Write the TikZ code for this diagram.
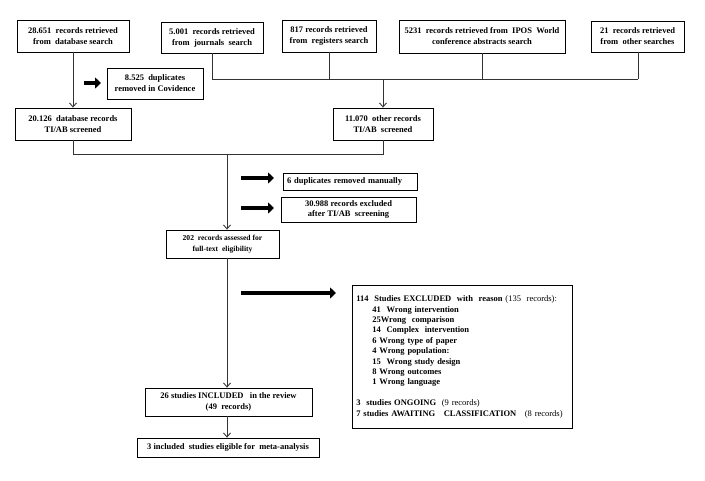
\documentclass[tikz,border=0pt]{standalone}
\usepackage{fontspec}
\setmainfont{Liberation Serif}
\usetikzlibrary{arrows.meta}
\tikzset{
  box/.style={draw=black, line width=0.8pt, align=center, inner sep=1pt,
    font=\fontsize{8.5}{11}\selectfont\bfseries},
  conn/.style={draw=black!80, line width=0.9pt},
  arr/.style={conn, -{Straight Barb[length=4pt,width=7pt]}},
  thick arrow/.style={draw=black, line width=3.6pt, -{Triangle[length=6pt,width=11pt]}}
}
\begin{document}
\begin{tikzpicture}[x=1pt,y=-1pt]
\useasboundingbox (0,0) rectangle (705,480);
% top row
\node[box, minimum width=112pt, minimum height=32pt] (db) at (73,36) {28.651 \ records retrieved\\from \ database search};
\node[box, minimum width=102pt, minimum height=31pt] (jour) at (212,37.5) {5.001 \ records retrieved\\from \ journals \ search};
\node[box, minimum width=94pt, minimum height=32pt] (reg) at (329,36) {817 records retrieved\\from \ registers search};
\node[box, minimum width=166pt, minimum height=33pt] (ipos) at (482,36.5) {5231 \ records retrieved from \ IPOS \ World\\conference abstracts search};
\node[box, minimum width=93pt, minimum height=31pt] (other) at (637.5,36.5) {21 \ records retrieved\\from \ other searches};
% duplicates
\node[box, minimum width=96pt, minimum height=31pt] (dup) at (155,83.5) {8.525 \ duplicates\\removed in Covidence};
% screened
\node[box, minimum width=116pt, minimum height=32pt] (db2) at (73,124) {20.126 \ database records\\TI/AB screened};
\node[box, minimum width=100pt, minimum height=32pt] (oth2) at (383,124) {11.070 \ other records\\TI/AB \ screened};
% removed / excluded
\node[box, minimum width=134pt, minimum height=17pt, align=left, text width=126pt] (man) at (350,181.5) {6 duplicates removed manually};
\node[box, minimum width=135pt, minimum height=25pt, font=\fontsize{8.5}{10}\selectfont\bfseries] (excl) at (348.5,209.5) {30.988 records excluded\\after TI/AB \ screening};
% full text
\node[box, minimum width=113pt, minimum height=28pt, font=\fontsize{7.6}{11}\selectfont\bfseries] (ft) at (222.5,244) {202 \ records assessed for\\full-text \ eligibility};
% big exclusion box
\node[box, anchor=north west, align=left, text width=212pt, minimum height=143pt, inner sep=4pt, font=\fontsize{8.5}{10.4}\selectfont\bfseries] (big) at (352,285) {114 \ Studies EXCLUDED \ with \ reason \textmd{(135 \ records):}\\
\hspace*{16pt}41 \ Wrong intervention\\
\hspace*{16pt}25Wrong \ comparison\\
\hspace*{16pt}14 \ Complex \ intervention\\
\hspace*{16pt}6 Wrong type of paper\\
\hspace*{16pt}4 Wrong population:\\
\hspace*{16pt}15 \ Wrong study design\\
\hspace*{16pt}8 Wrong outcomes\\
\hspace*{16pt}1 Wrong language\\[10.4pt]
3 \ studies ONGOING \ \textmd{(9 records)}\\
7 studies AWAITING \ \ CLASSIFICATION \ \ \textmd{(8 records)}};
% included
\node[box, minimum width=167pt, minimum height=28pt] (inc) at (228.5,402) {26 studies INCLUDED \ \ in the review\\(49 \ records)};
\node[box, minimum width=182pt, minimum height=19pt] (meta) at (228,447.5) {3 included \ studies eligible for \ meta-analysis};
% helper coordinates
\coordinate (j1) at (212,79);
\coordinate (j2) at (638,79);
\coordinate (jm) at (383,79);
\coordinate (k1) at (73,154);
\coordinate (k2) at (383,154);
\coordinate (km) at (227,154);
% connectors
\draw[arr] (db.south) -- (db2.north);
\draw[conn] (jour.south) -- (j1);
\draw[conn] (reg.south) -- (reg.south |- j1);
\draw[conn] (ipos.south) -- (ipos.south |- j1);
\draw[conn] (other.south -| j2) -- (j2);
\draw[conn] (j1) -- (j2);
\draw[arr] (jm) -- (oth2.north);
\draw[conn] (db2.south) -- (k1) -- (k2) -- (oth2.south);
\draw[arr] (km) -- (km |- ft.north);
\draw[arr] (km |- ft.south) -- (km |- inc.north);
\draw[arr] (km |- inc.south) -- (km |- meta.north);
% thick arrows
\coordinate (a1s) at (84,83); \coordinate (a1e) at (101,83);
\coordinate (a2s) at (241,178); \coordinate (a2e) at (274,178);
\coordinate (a3s) at (241,208); \coordinate (a3e) at (274,208);
\coordinate (a4s) at (241,293); \coordinate (a4e) at (336,293);
\draw[thick arrow] (a1s) -- (a1e);
\draw[thick arrow] (a2s) -- (a2e);
\draw[thick arrow] (a3s) -- (a3e);
\draw[thick arrow] (a4s) -- (a4e);
\end{tikzpicture}
\end{document}
